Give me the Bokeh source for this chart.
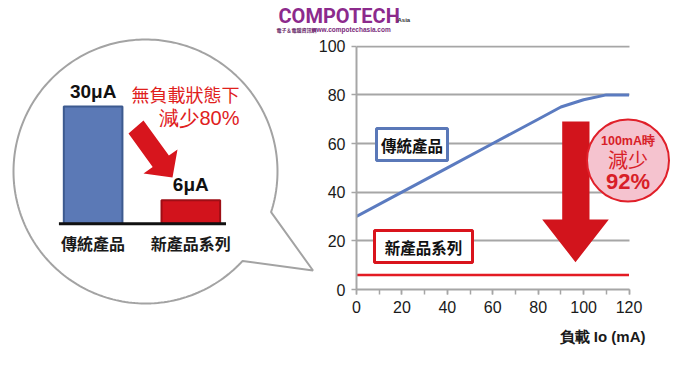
import numpy as np
from bokeh.plotting import figure
from bokeh.layouts import column, row
from bokeh.models import Range1d, FixedTicker, Title
from bokeh.core.properties import value
from bokeh.embed import file_html
from bokeh.resources import INLINE

# ---------------- data ----------------
categories = ["傳統產品", "新產品系列"]
standby_ua = [30, 6]
bar_colors = ["#5b79b6", "#d2131c"]
bar_edges = ["#3d5a8f", "#9e0f16"]

load_ma = [0, 20, 40, 60, 80, 90, 100, 110, 120]
conventional_ma = [30, 40, 50, 60, 70, 75, 78, 80, 80]
new_series_ma = [6, 6, 6, 6, 6, 6, 6, 6, 6]

x_ticks = [0, 20, 40, 60, 80, 100, 120]
x_minor_ticks = [0, 10, 20, 30, 40, 50, 60, 70, 80, 90, 100, 110, 120]
y_ticks = [0, 20, 40, 60, 80, 100]

CJK = "Noto Sans CJK TC"
LAT = "Liberation Sans"
RED = "#e0201c"
GRID = "#a6a6a6"


def bare(fig):
    fig.grid.visible = False
    fig.outline_line_color = None
    fig.background_fill_color = None
    fig.border_fill_color = "white"


# ---------------- logo row ----------------
logo = figure(width=693, height=37, x_range=Range1d(0, 693), y_range=Range1d(37, 0),
              output_backend="svg", toolbar_location=None,
              x_axis_location=None, y_axis_location=None, min_border=0)
bare(logo)
logo.text(x=[278], y=[15], text=["COMPOTECH"], text_font=value("Roboto"),
          text_font_style="bold", text_font_size="20px", text_color="#8c2a8c",
          text_align="left", text_baseline="middle")
logo.text(x=[397], y=[19], text=["Asia"], text_font=value(LAT), text_font_style="bold",
          text_font_size="6px", text_color="#333333", text_align="left", text_baseline="middle")
logo.text(x=[276], y=[29], text=["電子＆電腦資訊網"], text_font=value(CJK), text_font_style="bold",
          text_font_size="5px", text_color="#6a2a6a", text_align="left", text_baseline="middle")
logo.text(x=[311], y=[29], text=["www.compotechasia.com"], text_font=value(LAT), text_font_style="bold",
          text_font_size="6.5px", text_color="#7a2a7a", text_align="left", text_baseline="middle")

# ---------------- left bubble panel ----------------
left = figure(width=315, height=328, x_range=Range1d(-0.948, 2.276), y_range=Range1d(-36.24, 47.65),
              output_backend="svg", toolbar_location=None,
              x_axis_location=None, y_axis_location=None, min_border=0)
bare(left)
left.frame_align = False
left.extra_x_ranges = {"px": Range1d(0, 315)}
left.extra_y_ranges = {"px": Range1d(365, 37)}

# speech bubble outline (circle + tail)
cx, cy, r = 145.0, 171.0, 132.0
a0 = np.arctan2(89.0, 96.7)
a1 = np.arctan2(40.7, 125.7) + 2 * np.pi
ang = np.linspace(a0, a1, 240)
bx = list(cx + r * np.cos(ang)) + [312.5]
by = list(cy + r * np.sin(ang)) + [270.0]
left.patch(bx, by, fill_color="white", line_color="#a3a3a3", line_width=2,
           x_range_name="px", y_range_name="px")

bar_pos = list(range(len(categories)))
left.vbar(x=bar_pos, top=standby_ua, bottom=0, width=0.6, fill_color=bar_colors,
          line_color=bar_edges, line_width=2)
left.segment(x0=[-0.35], y0=[0], x1=[1.36], y1=[0], line_color="#111111", line_width=3)

left.text(x=bar_pos, y=standby_ua, text=[f"{v}μA" for v in standby_ua], y_offset=-5,
          text_font=value(LAT), text_font_style="bold", text_font_size="19px",
          text_color="#111111", text_align="center", text_baseline="bottom")
left.text(x=bar_pos, y=[0, 0], text=categories, y_offset=19,
          text_font=value(CJK), text_font_style="bold", text_font_size="16px",
          text_color="#1a1a1a", text_align="center", text_baseline="middle")

left.text(x=[239], y=[93.5], text=["無負載狀態下"], text_font=value(CJK), text_font_size="18px",
          text_color=RED, text_align="right", text_baseline="middle",
          x_range_name="px", y_range_name="px")
left.text(x=[239], y=[117], text=["減少80%"], text_font=value(LAT), text_font_size="20px",
          text_color=RED, text_align="right", text_baseline="middle",
          x_range_name="px", y_range_name="px")

arrow_x = [128, 143, 168.4, 177, 172, 143, 152.2]
arrow_y = [133, 120, 155.1, 149, 177, 173, 166.5]
left.patch(arrow_x, arrow_y, fill_color="#d7151d", line_color=None,
           x_range_name="px", y_range_name="px")

# ---------------- right line chart ----------------
right = figure(width=378, height=328, x_range=Range1d(0, 148.4), y_range=Range1d(0, 100.3),
               output_backend="svg", toolbar_location=None,
               min_border_left=41, min_border_right=0, min_border_top=8, min_border_bottom=76)
right.frame_align = False
right.outline_line_color = None
right.background_fill_color = None
right.border_fill_color = "white"
right.extra_x_ranges = {"px": Range1d(356, 693)}
right.extra_y_ranges = {"px": Range1d(289, 45)}

right.xgrid.visible = False
right.ygrid.grid_line_color = GRID
right.ygrid.grid_line_width = 2
right.ygrid.cross_bounds = (0, 120)

right.xaxis.ticker = FixedTicker(ticks=x_ticks, minor_ticks=x_minor_ticks)
right.xaxis.bounds = (0, 120)
right.yaxis.ticker = FixedTicker(ticks=y_ticks)
right.yaxis.bounds = (0, 100)
for ax in (right.xaxis, right.yaxis):
    ax.axis_line_color = GRID
    ax.axis_line_width = 2
    ax.major_label_text_font = LAT
    ax.major_label_text_font_size = "16px"
    ax.major_label_text_color = "#1a1a1a"
    ax.major_tick_line_color = GRID
    ax.major_tick_line_width = 1.5
    ax.major_tick_out = 5
    ax.major_tick_in = 0
right.xaxis.minor_tick_line_color = GRID
right.xaxis.minor_tick_line_width = 1.5
right.xaxis.minor_tick_out = 5
right.xaxis.minor_tick_in = 0
right.xaxis.major_label_standoff = 6
right.yaxis.minor_tick_line_color = None
right.yaxis.major_label_standoff = 6

right.add_layout(Title(text="負載 Io (mA)", align="right", offset=48, standoff=21, text_font=LAT,
                       text_font_size="15px", text_font_style="bold", text_color="#1a1a1a"), "below")

right.line(load_ma, conventional_ma, line_color="#5b7bc0", line_width=3)
right.line(load_ma, new_series_ma, line_color="#e31b23", line_width=2.5)

right.quad(left=[376, 374], right=[447, 472], top=[128, 230], bottom=[160, 262],
           fill_color="white", line_color=["#5a78b8", "#d9141c"], line_width=3,
           x_range_name="px", y_range_name="px")
right.text(x=[411.5, 423], y=[144, 246], text=["傳統產品", "新產品系列"],
           text_font=value(CJK), text_font_style="bold", text_font_size="15.5px",
           text_color="#111111", text_align="center", text_baseline="middle",
           x_range_name="px", y_range_name="px")

right.patch([561.7, 589, 589, 608.3, 575, 541.7, 561.7],
            [121, 121, 219, 219, 261.7, 219, 219],
            fill_color="#d2141c", line_color=None, x_range_name="px", y_range_name="px")

right.ellipse(x=[627.5], y=[160], width=82, height=82, fill_color="#f5c3cf",
              line_color="#e0202a", line_width=2, x_range_name="px", y_range_name="px")
right.text(x=[627.5], y=[140.5], text=["100mA時"], text_font=value(LAT), text_font_style="bold",
           text_font_size="12.5px", text_color="#d81e28", text_align="center", text_baseline="middle",
           x_range_name="px", y_range_name="px")
right.text(x=[627.5], y=[159], text=["減少"], text_font=value(CJK),
           text_font_size="20px", text_color="#d81e28", text_align="center", text_baseline="middle",
           x_range_name="px", y_range_name="px")
right.text(x=[627.5], y=[181], text=["92%"], text_font=value(LAT), text_font_style="bold",
           text_font_size="22px", text_color="#d81e28", text_align="center", text_baseline="middle",
           x_range_name="px", y_range_name="px")

layout = column(logo, row(left, right, spacing=0), spacing=0)
open("out.html", "w").write(file_html(layout, INLINE))
